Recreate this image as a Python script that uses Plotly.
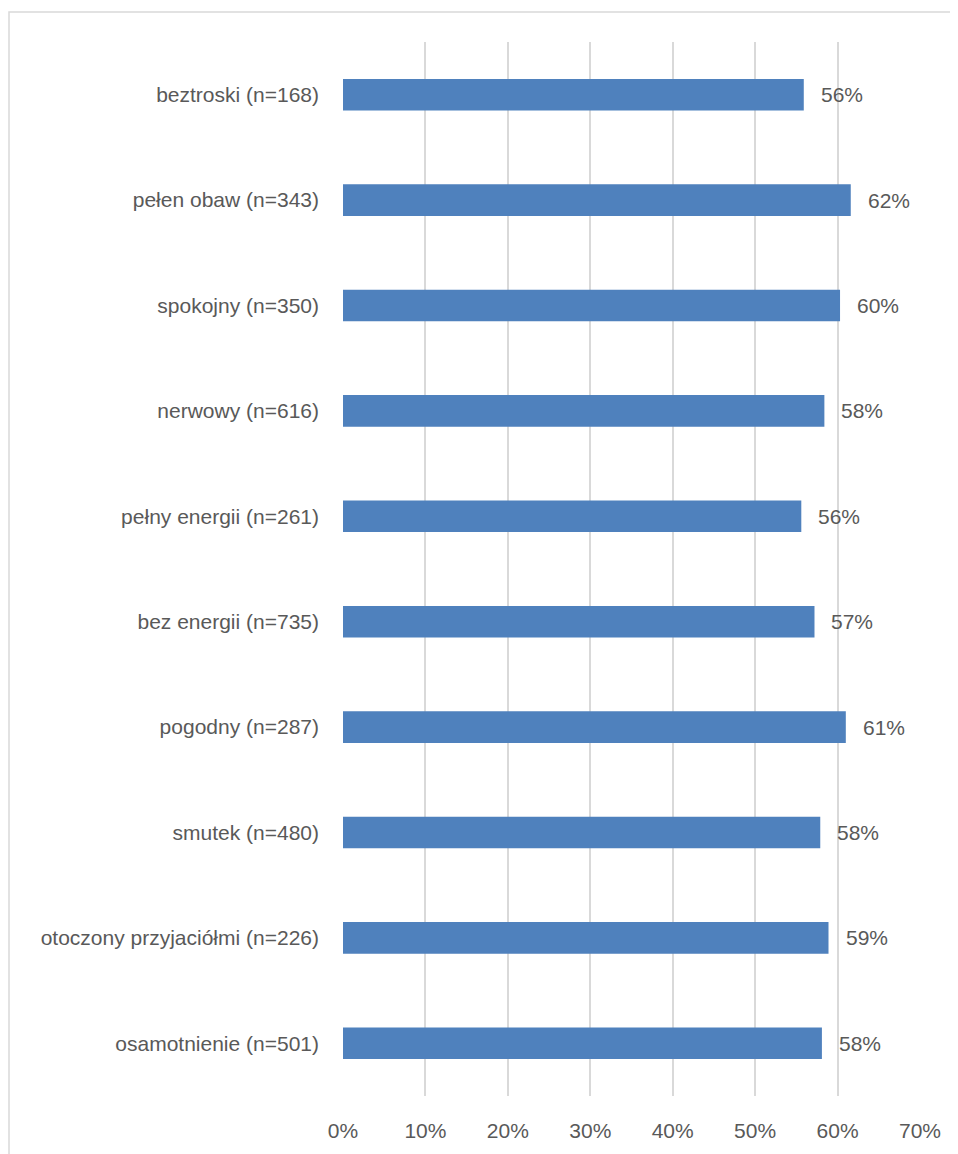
import plotly.graph_objects as go

categories = [
    "beztroski (n=168)",
    "pełen obaw (n=343)",
    "spokojny (n=350)",
    "nerwowy (n=616)",
    "pełny energii (n=261)",
    "bez energii (n=735)",
    "pogodny (n=287)",
    "smutek (n=480)",
    "otoczony przyjaciółmi (n=226)",
    "osamotnienie (n=501)",
]
values = [0.559, 0.616, 0.603, 0.584, 0.556, 0.572, 0.610, 0.579, 0.589, 0.581]
tick_vals = [0, 0.1, 0.2, 0.3, 0.4, 0.5, 0.6, 0.7]
tick_text = ["0%", "10%", "20%", "30%", "40%", "50%", "60%", "70%"]

# page has an 8px body margin, so the figure is drawn 8px smaller and offset
W, H = 950, 1146
L, R, T, B = 335, 38, 34, 54
FONT = "Liberation Sans"
TXT = "#595959"
FS = 21

fig = go.Figure(go.Bar(
    x=values, y=categories, orientation="h",
    marker=dict(color="#4F81BD", line=dict(width=0)),
    width=0.3,
))

annotations = [
    dict(x=v, y=c, xref="x", yref="y", text=f"{round(v*100)}%", showarrow=False,
         xanchor="left", xshift=15, font=dict(family=FONT, size=FS, color=TXT))
    for c, v in zip(categories, values)
]

pw = W - L - R
ph = H - T - B
def px2x(px):
    return (px - L) / pw
def py2y(py):
    return (H - B - py) / ph

fig.update_layout(
    width=W, height=H,
    margin=dict(l=L, r=R, t=T, b=B),
    paper_bgcolor="white", plot_bgcolor="white",
    showlegend=False,
    font=dict(family=FONT, size=FS, color=TXT),
    xaxis=dict(range=[0, 0.7], tickvals=tick_vals, ticktext=tick_text,
               showgrid=True, gridcolor="#D9D9D9", gridwidth=1.5,
               zeroline=False, showline=False, ticks="", ticklabelstandoff=20,
               tickfont=dict(family=FONT, size=FS, color=TXT)),
    yaxis=dict(autorange="reversed", showgrid=False, zeroline=False,
               showline=False, ticks="", ticklabelstandoff=23,
               tickfont=dict(family=FONT, size=FS, color=TXT)),
    annotations=annotations,
    shapes=[dict(type="rect", xref="paper", yref="paper",
                 x0=px2x(1), x1=px2x(970), y0=py2y(1170), y1=py2y(4),
                 line=dict(color="#D9D9D9", width=1.5), layer="below")],
)

fig.write_html("out.html")
